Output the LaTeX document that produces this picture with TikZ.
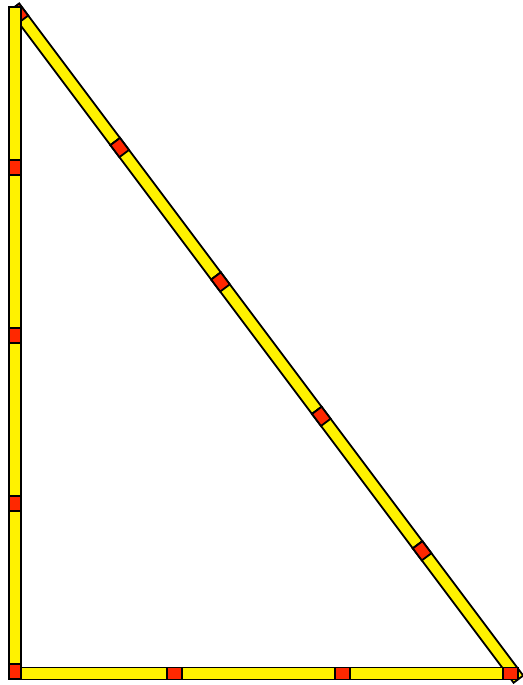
\documentclass[tikz,border=0pt]{standalone}
\usepackage{tikz}
\definecolor{headred}{RGB}{255,40,0}
\tikzset{
  stickbody/.style={draw=black,fill=yellow,line width=1.8pt},
  stickhead/.style={draw=black,fill=headred,line width=1.8pt}
}
% one match: start point, direction, where the head sits along it
\newcommand{\matchstick}[3]{%
  \begin{scope}[shift={#1},rotate=#2]
    \draw[stickbody] (0,-6) rectangle (168,6);
    \draw[stickhead] (#3,-6) rectangle ++(15,12);
  \end{scope}}

\begin{document}
\begin{tikzpicture}[x=1pt,y=1pt]
\useasboundingbox (0,0) rectangle (522,685);
% hypotenuse, five matches, heads up
\foreach \i in {0,...,4}
  \matchstick{(14.4+100.8*\i,677.8-134.4*\i)}{-53.13}{0};
% base, three matches, heads right
\foreach \i in {0,...,2}
  \matchstick{(14+168*\i,11.5)}{0}{153};
% upright side, four matches, heads down
\foreach \i in {0,...,3}
  \matchstick{(15,678-168*\i)}{-90}{153};
\end{tikzpicture}
\end{document}
